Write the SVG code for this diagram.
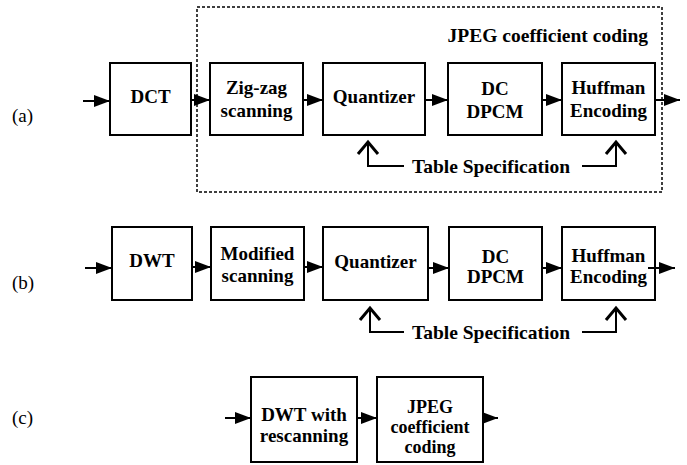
<svg xmlns="http://www.w3.org/2000/svg" width="687" height="465" viewBox="0 0 687 465">
<style>
.box{fill:#fff;stroke:#000;stroke-width:2}
.t{font-family:"Liberation Serif","Times New Roman",serif;font-weight:bold;font-size:19px;fill:#000;text-anchor:middle}
.tc{font-size:18px}
.lbl{font-family:"Liberation Serif","Times New Roman",serif;font-size:19px;fill:#000}
.hdr{font-family:"Liberation Serif","Times New Roman",serif;font-weight:bold;font-size:19.5px;fill:#000}
.ln{stroke:#000;stroke-width:2;fill:none}
.chev{stroke:#000;stroke-width:3;fill:none;stroke-linejoin:miter}
.dash{fill:none;stroke:#000;stroke-width:1.5;stroke-dasharray:3 2}
</style>
<defs>
<marker id="ah" markerUnits="userSpaceOnUse" markerWidth="17" markerHeight="13" refX="16" refY="6.5" orient="auto">
<path d="M0,0.5 L16,6.5 L0,12.5 Z" fill="#000"/>
</marker>
</defs>

<rect width="687" height="465" fill="#fff"/>

<!-- labels -->
<text class="lbl" x="12" y="122">(a)</text>
<text class="lbl" x="12" y="289">(b)</text>
<text class="lbl" x="12" y="424">(c)</text>

<!-- group frame (a) -->
<g id="jpeg-group">
<rect class="dash" x="197" y="7" width="465" height="185"/>
<text class="hdr" x="648" y="42" text-anchor="end">JPEG coefficient coding</text>
</g>

<!-- row (a) nodes -->
<g id="a-dct"><rect class="box" x="110" y="63" width="81" height="72"/><text class="t" x="150.5" y="103">DCT</text></g>
<g id="a-zigzag"><rect class="box" x="210" y="63" width="93" height="72"/><text class="t" x="256.5" y="94">Zig-zag</text><text class="t" x="256.5" y="117">scanning</text></g>
<g id="a-quant"><rect class="box" x="323" y="63" width="102" height="72"/><text class="t" x="374" y="103">Quantizer</text></g>
<g id="a-dpcm"><rect class="box" x="448" y="63" width="94" height="72"/><text class="t" x="495" y="95">DC</text><text class="t" x="495" y="118">DPCM</text></g>
<g id="a-huff"><rect class="box" x="562" y="63" width="93" height="72"/><text class="t" x="608.5" y="94">Huffman</text><text class="t" x="608.5" y="117">Encoding</text></g>
<g id="a-table"><text class="hdr" x="491" y="173" text-anchor="middle">Table Specification</text></g>

<!-- row (b) nodes -->
<g id="b-dwt"><rect class="box" x="112" y="227" width="80" height="73"/><text class="t" x="152" y="267">DWT</text></g>
<g id="b-mod"><rect class="box" x="211" y="227" width="93" height="73"/><text class="t" x="257.5" y="260">Modified</text><text class="t" x="257.5" y="282">scanning</text></g>
<g id="b-quant"><rect class="box" x="323" y="227" width="105" height="73"/><text class="t" x="375.5" y="268">Quantizer</text></g>
<g id="b-dpcm"><rect class="box" x="449" y="227" width="93" height="73"/><text class="t" x="495.5" y="263">DC</text><text class="t" x="495.5" y="283">DPCM</text></g>
<g id="b-huff"><rect class="box" x="562" y="227" width="93" height="73"/><text class="t" x="608.5" y="262">Huffman</text><text class="t" x="608.5" y="283">Encoding</text></g>
<g id="b-table"><text class="hdr" x="491" y="339" text-anchor="middle">Table Specification</text></g>

<!-- row (c) nodes -->
<g id="c-dwt"><rect class="box" x="251" y="377" width="106" height="85"/><text class="t" x="304" y="421">DWT with</text><text class="t" x="304" y="442">rescanning</text></g>
<g id="c-jpeg"><rect class="box" x="377" y="377" width="106" height="85"/><text class="t tc" x="430" y="413">JPEG</text><text class="t tc" x="430" y="433">coefficient</text><text class="t tc" x="430" y="453">coding</text></g>

<!-- connectors -->
<g id="connectors">
<line class="ln" x1="83" y1="101" x2="110" y2="101" marker-end="url(#ah)"/>
<line class="ln" x1="191" y1="100" x2="210" y2="100" marker-end="url(#ah)"/>
<line class="ln" x1="303" y1="100" x2="323" y2="100" marker-end="url(#ah)"/>
<line class="ln" x1="425" y1="100" x2="448" y2="100" marker-end="url(#ah)"/>
<line class="ln" x1="542" y1="100" x2="562" y2="100" marker-end="url(#ah)"/>
<line class="ln" x1="655" y1="100" x2="680" y2="100" marker-end="url(#ah)"/>

<polyline class="ln" points="404,166 368,166 368,142"/>
<polyline class="chev" points="358,154 368,142 378,154"/>
<polyline class="ln" points="582,166 616,166 616,142"/>
<polyline class="chev" points="606,154 616,142 626,154"/>

<line class="ln" x1="85" y1="268" x2="112" y2="268" marker-end="url(#ah)"/>
<line class="ln" x1="192" y1="267" x2="211" y2="267" marker-end="url(#ah)"/>
<line class="ln" x1="304" y1="267" x2="323" y2="267" marker-end="url(#ah)"/>
<line class="ln" x1="428" y1="268" x2="449" y2="268" marker-end="url(#ah)"/>
<line class="ln" x1="542" y1="268" x2="562" y2="268" marker-end="url(#ah)"/>
<line class="ln" x1="648" y1="268" x2="675" y2="268" marker-end="url(#ah)"/>

<polyline class="ln" points="404,332 370,332 370,308"/>
<polyline class="chev" points="360,320 370,308 380,320"/>
<polyline class="ln" points="582,332 616,332 616,308"/>
<polyline class="chev" points="606,320 616,308 626,320"/>

<line class="ln" x1="225" y1="418" x2="251" y2="418" marker-end="url(#ah)"/>
<line class="ln" x1="357" y1="418" x2="377" y2="418" marker-end="url(#ah)"/>
<line class="ln" x1="483" y1="418" x2="498" y2="418" marker-end="url(#ah)"/>
</g>
</svg>
